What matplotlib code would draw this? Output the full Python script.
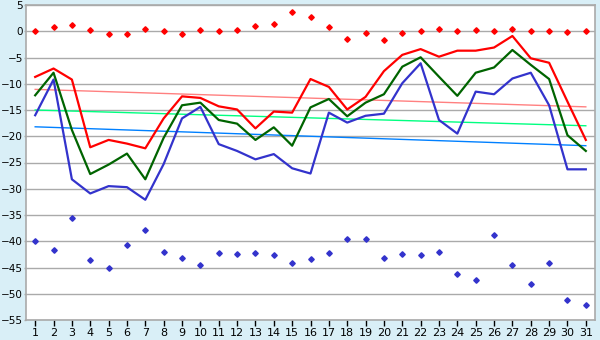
import matplotlib
matplotlib.use("Agg")
import matplotlib.pyplot as plt
import numpy as np

days = list(range(1, 32))

red_points = [0.0, 0.76, 1.14, 0.19, -0.57, -0.57, 0.38, 0.0, -0.57, 0.19,
              0.0, 0.19, 0.95, 1.33, 3.6, 2.67, 0.76, -1.53, -0.38, -1.72,
              -0.38, 0.0, 0.38, 0.0, 0.19, 0.0, 0.38, 0.0, 0.0, -0.19, 0.0]
blue_points = [-39.9, -41.6, -35.5, -43.5, -45.0, -40.8, -37.8, -42.0, -43.1, -44.5,
               -42.2, -42.4, -42.2, -42.7, -44.1, -43.3, -42.2, -39.5, -39.5, -43.1,
               -42.4, -42.7, -42.0, -46.2, -47.3, -38.9, -44.5, -48.1, -44.1, -51.1, -52.1]
red_line = [-8.7, -7.1, -9.2, -22.1, -20.7, -21.4, -22.3, -16.6, -12.4, -12.7,
            -14.3, -14.9, -18.5, -15.3, -15.5, -9.1, -10.6, -14.9, -12.5, -7.6,
            -4.5, -3.4, -4.85, -3.7, -3.7, -3.1, -0.9, -5.15, -6.0, -13.4, -20.7]
green_line = [-12.2, -7.9, -18.8, -27.2, -25.4, -23.3, -28.2, -20.3, -14.1, -13.6,
              -16.9, -17.6, -20.7, -18.3, -21.8, -14.5, -12.9, -16.2, -13.6, -12.0,
              -6.75, -4.96, -8.66, -12.3, -7.9, -6.9, -3.57, -6.4, -9.1, -19.8, -22.8]
blue_line = [-16.0, -9.2, -28.2, -30.9, -29.5, -29.7, -32.1, -25.3, -16.6, -14.4,
             -21.5, -22.8, -24.4, -23.4, -26.1, -27.1, -15.5, -17.4, -16.1, -15.7,
             -9.9, -6.1, -16.9, -19.5, -11.5, -12.0, -9.0, -7.9, -14.1, -26.3, -26.3]
trend_red = [-11.07, -14.4]
trend_green = [-15.0, -18.0]
trend_blue = [-18.2, -21.8]
trend_x = [1, 31]

y_ticks = list(range(-55, 6, 5))

fig = plt.figure(figsize=(6, 3.4), dpi=100, facecolor="#d9eff7")
ax = fig.add_axes([26/600, 1 - 320/340, (595-26)/600, (320-5)/340])
ax.set_facecolor("white")

for v in y_ticks:
    ax.axhline(v, color="#aaaaaa", lw=1.0, zorder=1)

ax.plot(trend_x, trend_red, color="#ff8080", lw=1.0, zorder=2)
ax.plot(trend_x, trend_green, color="#00ff80", lw=1.0, zorder=2)
ax.plot(trend_x, trend_blue, color="#0080ff", lw=1.0, zorder=2)

ax.plot(days, blue_line, color="#3333cc", lw=1.6, zorder=3)
ax.plot(days, green_line, color="#006400", lw=1.6, zorder=4)
ax.plot(days, red_line, color="#ff0000", lw=1.6, zorder=5)

ax.plot(days, red_points, ls="none", marker="D", ms=2.8, color="#ff0000", zorder=6)
ax.plot(days, blue_points, ls="none", marker="D", ms=2.8, color="#3333cc", zorder=6)

ax.set_xlim(0.5, 31.5)
ax.set_ylim(-55, 5)
ax.set_xticks(days)
ax.set_xticklabels([str(d) for d in days])
ax.set_yticks(y_ticks)
ax.set_yticklabels([str(v).replace("-", "\u2212") for v in y_ticks])
ax.tick_params(axis="x", length=4, width=1, color="black", labelsize=8, pad=2)
ax.tick_params(axis="y", length=1.5, width=1, color="#aaaaaa", labelsize=7.5, pad=0.5)
for s in ax.spines.values():
    s.set_color("#aaaaaa")
    s.set_linewidth(1.2)

fig.savefig("out.png", dpi=100, facecolor=fig.get_facecolor())
